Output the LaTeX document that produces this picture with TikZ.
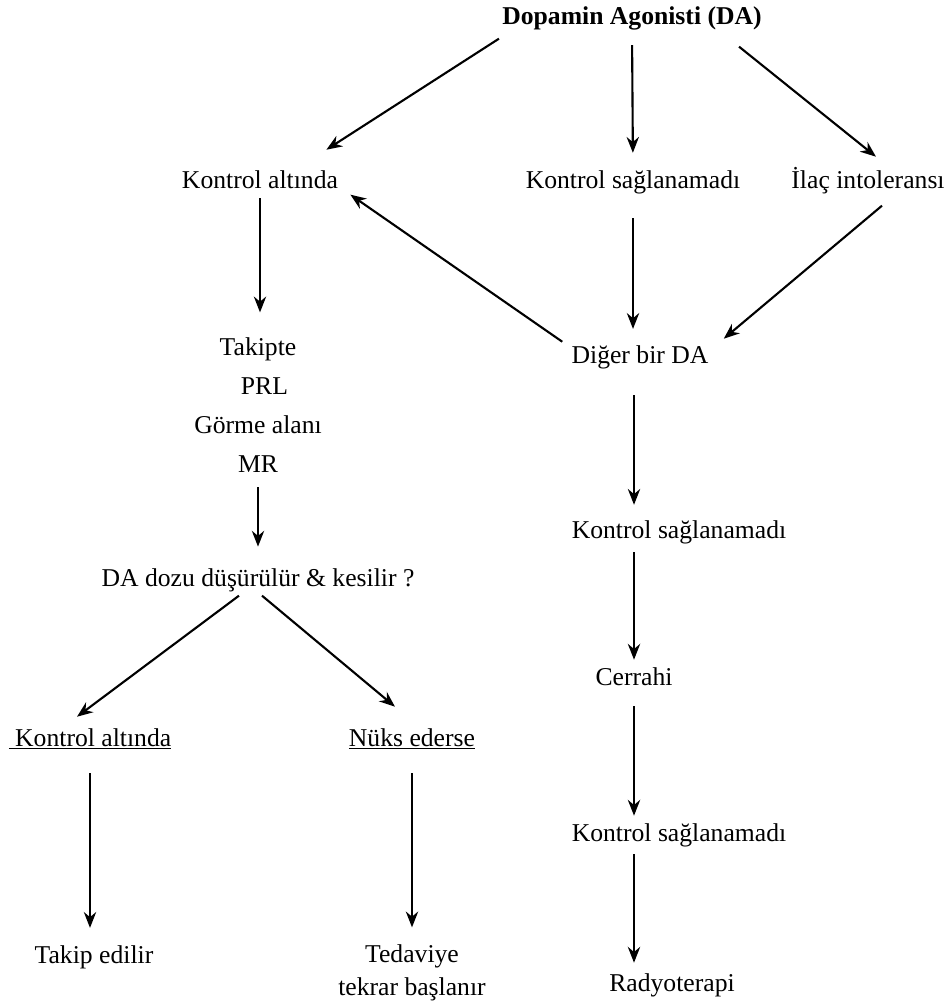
\documentclass[tikz,border=0pt]{standalone}
\usepackage{fontspec}
\setmainfont{Liberation Serif}
\usetikzlibrary{arrows.meta}
\newcommand{\lblfont}{\fontsize{14.6}{18.7}\selectfont}

\begin{document}
\begin{tikzpicture}[
    x=0.02cm, y=-0.02cm,
    lbl/.style={font=\lblfont, inner sep=0pt},
    txt/.style={lbl, anchor=base, text height=10.2pt, text depth=3.6pt},
    arrow/.style={-{Stealth[length=9pt,width=7pt]}, line width=1.2pt}
  ]
    \useasboundingbox (0,0) rectangle (946,1003);

    \node[txt, font=\lblfont\bfseries] (title) at (632,25) {Dopamin Agonisti (DA)};
    \node[txt] (k1) at (260,189) {Kontrol altında};
    \node[txt] (ks1) at (633,189) {Kontrol sağlanamadı};
    \node[txt] (il) at (868,189) {İlaç intoleransı};
    \node[lbl, align=center] (takip) at (258,405) {Takipte\\[3.6pt]\hspace*{0.5em}PRL\\[3.6pt]Görme alanı\\[3.6pt]MR};
    \node[txt] (diger) at (640,363) {Diğer bir DA};
    \node[txt] (ks2) at (679,538) {Kontrol sağlanamadı};
    \node[txt] (dadoz) at (258,586) {DA dozu düşürülür \& kesilir ?};
    \node[txt] (cerrahi) at (634,685) {Cerrahi};
    \node[txt] (k2) at (90,746) {\underline{\ Kontrol altında}};
    \node[txt] (nuks) at (412,746) {\underline{Nüks ederse}};
    \node[txt] (ks3) at (679,841) {Kontrol sağlanamadı};
    \node[txt] (takipedilir) at (94,963) {Takip edilir};
    \node[lbl, align=center] (tedavi) at (412,973) {Tedaviye\\tekrar başlanır};
    \node[txt] (radyo) at (672,991) {Radyoterapi};

    \draw[arrow] ([shift={(-3,7)}]title.south west) -- ([shift={(-12,-21)}]k1.north east);
    \draw[arrow, shorten <=7.7pt, shorten >=10.2pt] (title.south) -- (ks1.north);
    \draw[arrow] ([shift={(-23,15)}]title.south east) -- ([shift={(8,-14)}]il.north);
    \draw[arrow, shorten <=1.5pt, shorten >=14pt] (k1.south) -- (k1.south |- takip.north);
    \draw[arrow, shorten <=12.8pt, shorten >=9pt] (ks1.south) -- (ks1.south |- diger.north);
    \draw[arrow] ([shift={(14,10)}]il.south) -- ([shift={(15,-6)}]diger.north east);
    \draw[arrow] ([shift={(-9,-3)}]diger.north west) -- ([shift={(12,-1)}]k1.south east);
    \draw[arrow, shorten <=8pt, shorten >=12pt] (takip.south) -- (dadoz.north);
    \draw[arrow, shorten <=14.5pt, shorten >=8.5pt] (diger.south -| cerrahi) -- (ks2.north -| cerrahi);
    \draw[arrow, shorten <=4.3pt, shorten >=4pt] (ks2.south -| cerrahi) -- (cerrahi.north);
    \draw[arrow] ([shift={(-19,3)}]dadoz.south) -- ([shift={(-13,-11)}]k2.north);
    \draw[arrow] ([shift={(4,3)}]dadoz.south) -- ([shift={(-17,-21)}]nuks.north);
    \draw[arrow, shorten <=8.3pt, shorten >=4pt] (cerrahi.south) -- (ks3.north -| cerrahi);
    \draw[arrow, shorten <=3.7pt, shorten >=5.7pt] (ks3.south -| cerrahi) -- (radyo.north -| cerrahi);
    \draw[arrow, shorten <=11.7pt, shorten >=9.6pt] (k2.south) -- (k2.south |- takipedilir.north);
    \draw[arrow, shorten <=11.7pt, shorten >=9.8pt] (nuks.south) -- (tedavi.north);
  \end{tikzpicture}
\end{document}
